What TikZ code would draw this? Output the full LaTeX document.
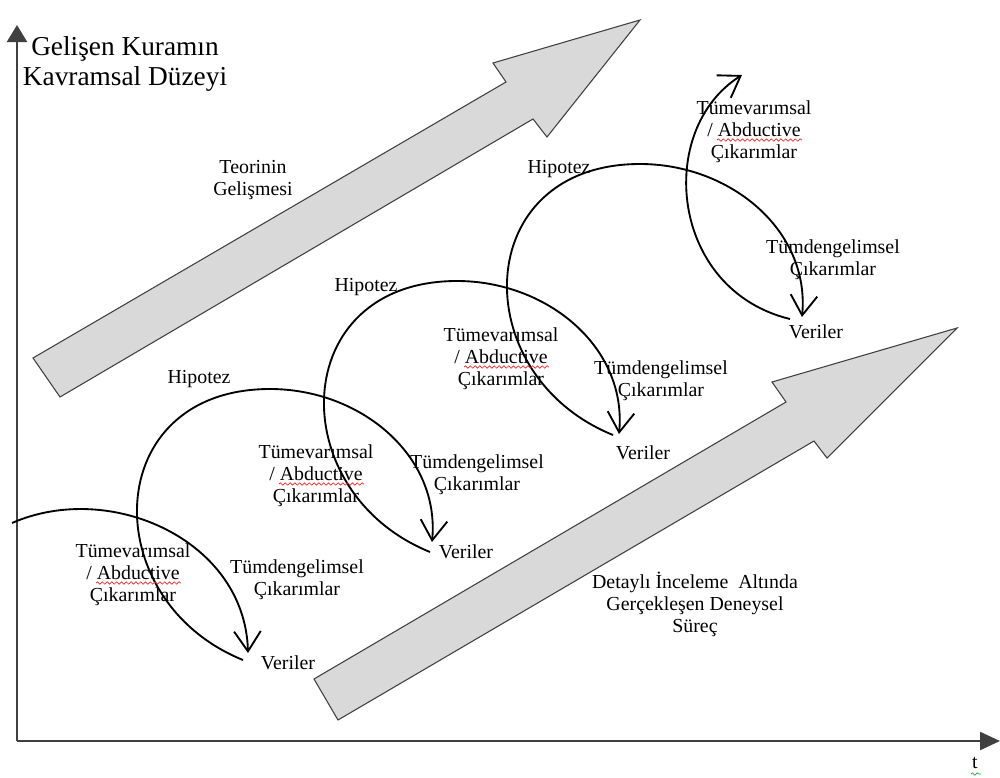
\documentclass[tikz,border=0pt]{standalone}
\usepackage{fontspec}
\setmainfont{Liberation Serif}
\usetikzlibrary{arrows.meta,calc,decorations.pathmorphing}
\definecolor{arrowgray}{RGB}{217,217,217}
\definecolor{edgegray}{RGB}{64,64,64}
\definecolor{proofred}{RGB}{230,40,40}
\definecolor{proofgreen}{RGB}{40,160,60}

\begin{document}
\begin{tikzpicture}[x=0.75pt,y=-0.75pt,
  lbl/.style={font=\fontsize{14.9}{16.5}\selectfont, align=center, inner sep=0pt},
  ttl/.style={font=\fontsize{20.5}{22.5}\selectfont, align=center, inner sep=0pt},
  axis/.style={draw=edgegray, line width=1.7pt},
  bigarrow/.style={fill=arrowgray, draw=edgegray, line width=0.8pt, line join=miter},
  flow/.style={draw=black, line width=1.4pt, -{Straight Barb[length=15pt,width=20pt]}},
  wavy/.style={draw=#1, line width=0.5pt, decorate,
    decoration={snake, amplitude=0.9pt, segment length=3.6pt}}]
\useasboundingbox (0,0) rectangle (1000,778);

% axes
\coordinate (origin) at (17,741);
\coordinate (ytip) at (17,25);
\coordinate (xtip) at (1000,741);
\draw[axis, -{Triangle[length=12.75pt,width=15pt]}] (origin) -- (ytip);
\draw[axis, -{Triangle[length=15pt,width=13.5pt]}] (origin) -- (xtip);

% broad arrows: theory development and experimental process
\draw[bigarrow] (33,358) -- (506,82) -- (493,63) -- (640,20) -- (547,137)
  -- (533,119) -- (60,397) -- cycle;
\draw[bigarrow] (314,679) -- (786,402) -- (772,382) -- (957,328) -- (827,458)
  -- (814,441) -- (338,720) -- cycle;

% loop end points
\coordinate (start0) at (12,523);
\coordinate (v1in) at (248,653);
\coordinate (v1out) at (243,660);
\coordinate (top2) at (270,389);
\coordinate (v2in) at (432,542);
\coordinate (v2out) at (430,552);
\coordinate (top3) at (457,281);
\coordinate (v3in) at (619,434);
\coordinate (v3out) at (613,435);
\coordinate (top4) at (640,164);
\coordinate (v4in) at (802,317);
\coordinate (v4out) at (790,319);
\coordinate (end5) at (742,75);

% induction / deduction cycles
\draw[flow] (start0) .. controls +(98,-43) and +(-3,-113) .. (v1in);
\draw[flow] (v1out) .. controls +(-148,-60) and +(-170,0) .. (top2)
  .. controls +(90,0) and +(8,-87) .. (v2in);
\draw[flow] (v2out) .. controls +(-148,-60) and +(-170,0) .. (top3)
  .. controls +(90,0) and +(8,-87) .. (v3in);
\draw[flow] (v3out) .. controls +(-148,-60) and +(-170,0) .. (top4)
  .. controls +(90,0) and +(8,-87) .. (v4in);
\draw[flow] (v4out) .. controls +(-120,-29) and +(-87,55) .. (end5);

% labels
\node[ttl] (title) at (125,64) {Gelişen Kuramın\\Kavramsal Düzeyi};
\node[lbl] (teori) at (253,180) {Teorinin\\Gelişmesi};
\node[lbl] (hip1) at (199,379) {Hipotez};
\node[lbl] (hip2) at (366,287) {Hipotez};
\node[lbl] (hip3) at (559,169) {Hipotez};

\node[lbl] (tv1) at (133,575) {Tümevarımsal\\/ Abductive\\Çıkarımlar};
\node[lbl] (td1) at (297,580) {Tümdengelimsel\\Çıkarımlar};
\node[lbl] (ver1) at (288,663) {Veriler};

\node[lbl] (tv2) at (316,476) {Tümevarımsal\\/ Abductive\\Çıkarımlar};
\node[lbl] (td2) at (477,475) {Tümdengelimsel\\Çıkarımlar};
\node[lbl] (ver2) at (466,552) {Veriler};

\node[lbl] (tv3) at (501,359) {Tümevarımsal\\/ Abductive\\Çıkarımlar};
\node[lbl] (td3) at (661,381) {Tümdengelimsel\\Çıkarımlar};
\node[lbl] (ver3) at (643,453) {Veriler};

\node[lbl] (tv4) at (754,132) {Tümevarımsal\\/ Abductive\\Çıkarımlar};
\node[lbl] (td4) at (833,260) {Tümdengelimsel\\Çıkarımlar};
\node[lbl] (ver4) at (816,332) {Veriler};

\node[lbl] (deney) at (695,604) {Detaylı İnceleme~ Altında\\Gerçekleşen Deneysel\\Süreç};
\node[lbl] (tlbl) at (975,763) {t};

% proofing squiggles under "Abductive" and "t"
\foreach \n in {tv1,tv2,tv3,tv4}
  \draw[wavy=proofred] ($(\n)+(-37,8)$) -- ($(\n)+(48,8)$);
\draw[wavy=proofgreen] ($(tlbl)+(-4,11)$) -- ($(tlbl)+(6,11)$);
\end{tikzpicture}
\end{document}
